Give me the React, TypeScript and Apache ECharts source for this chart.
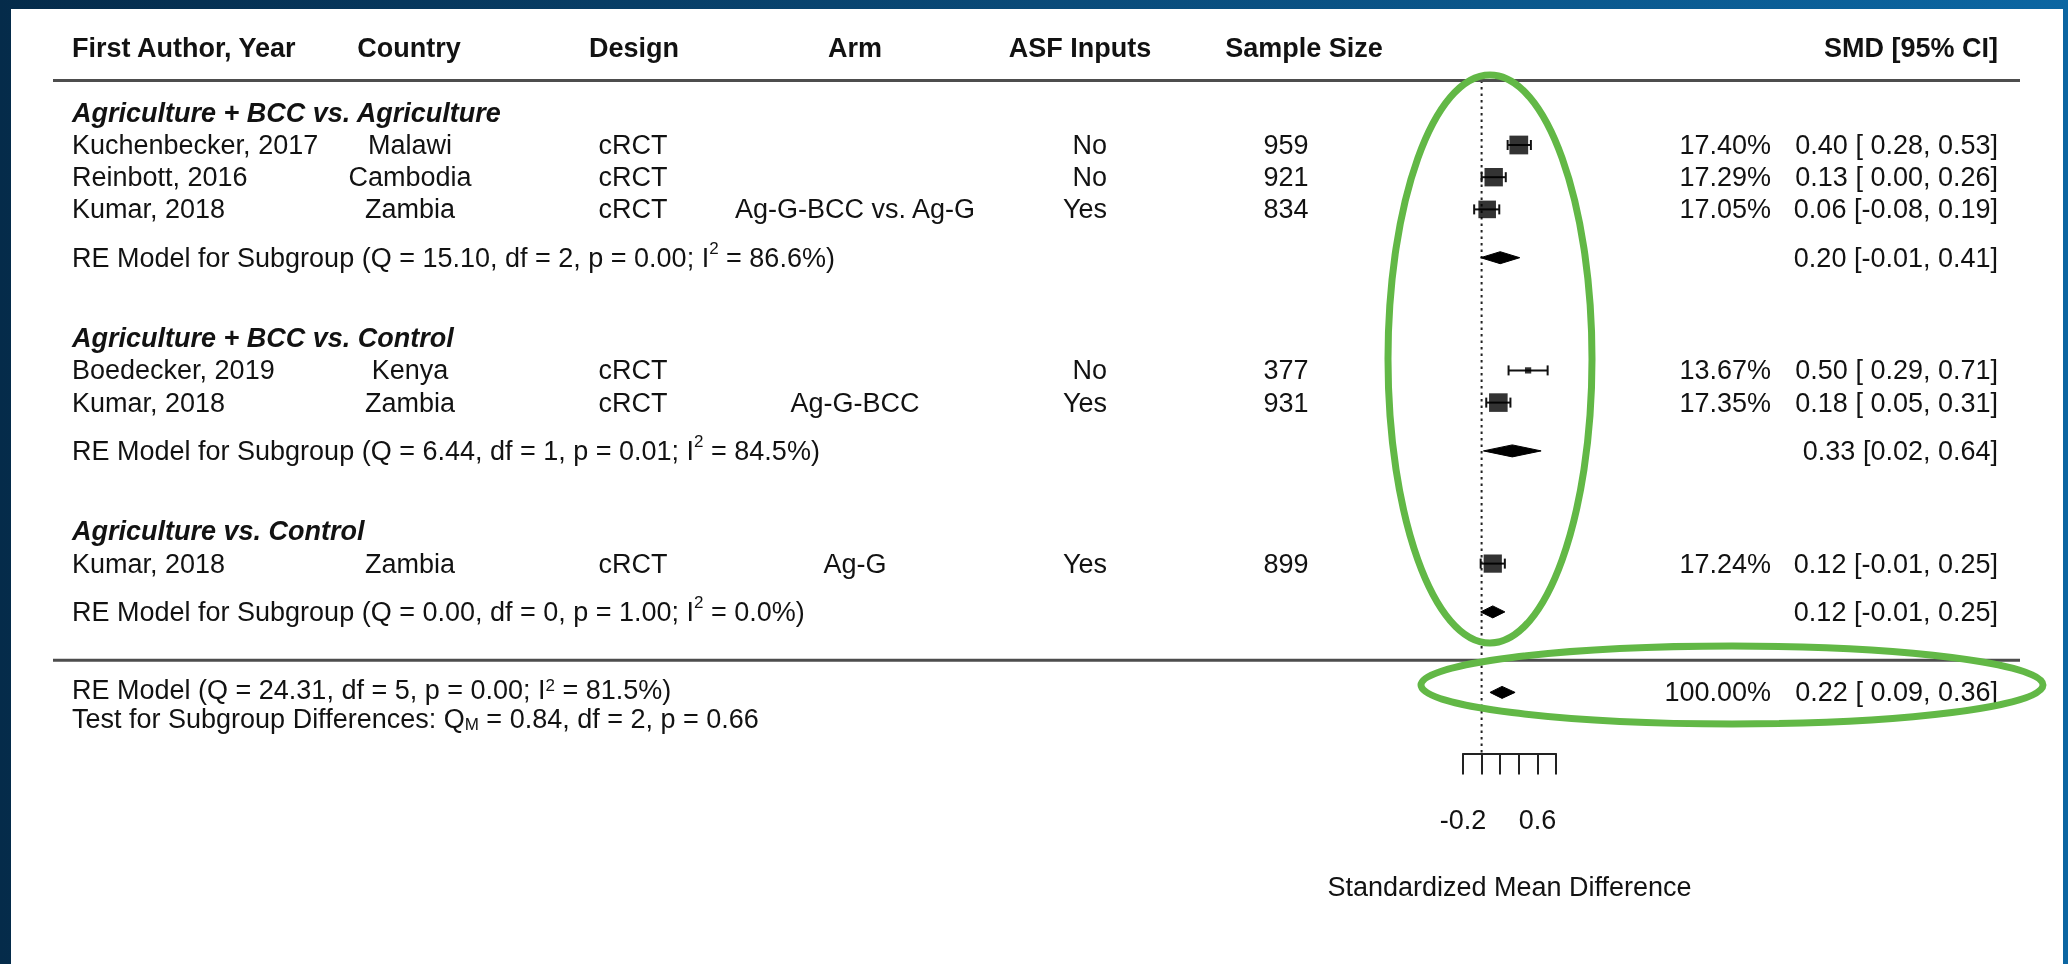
import React, { useEffect, useRef } from "react";
import * as echarts from "echarts";

// ---------------- data ----------------
const headerLabels = ["First Author, Year", "Country", "Design", "Arm", "ASF Inputs", "Sample Size", "SMD [95% CI]"];

const groupTitles = ["Agriculture + BCC vs. Agriculture", "Agriculture + BCC vs. Control", "Agriculture vs. Control"];
const groupTitleRows = [-1, 6, 12];

const studyAuthors = ["Kuchenbecker, 2017", "Reinbott, 2016", "Kumar, 2018", "Boedecker, 2019", "Kumar, 2018", "Kumar, 2018"];
const studyCountries = ["Malawi", "Cambodia", "Zambia", "Kenya", "Zambia", "Zambia"];
const studyDesigns = ["cRCT", "cRCT", "cRCT", "cRCT", "cRCT", "cRCT"];
const studyArms = ["", "", "Ag-G-BCC vs. Ag-G", "", "Ag-G-BCC", "Ag-G"];
const studyAsf = ["No", "No", "Yes", "No", "Yes", "Yes"];
const studyN = [959, 921, 834, 377, 931, 899];
const studyWeights = [17.4, 17.29, 17.05, 13.67, 17.35, 17.24];
const studySmd = [0.4, 0.13, 0.06, 0.5, 0.18, 0.12];
const studyLower = [0.28, 0.0, -0.08, 0.29, 0.05, -0.01];
const studyUpper = [0.53, 0.26, 0.19, 0.71, 0.31, 0.25];
const studyRows = [0, 1, 2, 7, 8, 13];

const subgroupRows = [3.5, 9.5, 14.5];
const subgroupQ = [15.1, 6.44, 0.0];
const subgroupDf = [2, 1, 0];
const subgroupP = [0.0, 0.01, 1.0];
const subgroupI2 = [86.6, 84.5, 0.0];
const subgroupSmd = [0.2, 0.33, 0.12];
const subgroupLower = [-0.01, 0.02, -0.01];
const subgroupUpper = [0.41, 0.64, 0.25];

const overallRow = 17;
const overallTextRow = 16.94;
const testRow = 17.84;
const overallQ = 24.31;
const overallDf = 5;
const overallP = 0.0;
const overallI2 = 81.5;
const overallWeight = 100.0;
const overallSmd = 0.22;
const overallLower = 0.09;
const overallUpper = 0.36;
const testQM = 0.84;
const testDf = 2;
const testP = 0.66;

const headerRow = -3;
const ruleRows = [-2, 16];

const xMin = -0.2;
const xMax = 0.8;
const xInterval = 0.2;
const xTickLabelsShown = ["-0.2", "0.6"];
const xAxisTitle = "Standardized Mean Difference";

// ---------------- layout ----------------
const W = 2068;
const H = 964;
const ROW_PX = 32.2;
const ROW0_Y = 145;
const Y_MIN = -2;
const Y_MAX = 18.9;
const PLOT_LEFT = 1463;
const PLOT_WIDTH = 93;
const COL = {
  author: 72,
  country: 410,
  design: 633,
  arm: 855,
  asf: 1107,
  n: 1286,
  weight: 1771,
  ci: 1998,
  hCountry: 409,
  hDesign: 634,
  hArm: 855,
  hAsf: 1080,
  hN: 1304,
};
const RULE_X1 = 53;
const RULE_X2 = 2020;
const FRAME = { left: 11, top: 9, right: 5 };
const FONT = "'Liberation Sans', Arial, Helvetica, sans-serif";
const FS = 27;
const INK = "#121212";
const GREEN = "#62b846";

const f2 = (v: number) => v.toFixed(2);
const ciText = (est: number, lo: number, hi: number, pad: boolean) =>
  `${f2(est)} [${pad ? f2(lo).padStart(5, " ") : f2(lo)}, ${f2(hi)}]`;

export default function App() {
  const ref = useRef<HTMLDivElement>(null);

  useEffect(() => {
    if (!ref.current) return;
    const chart = echarts.init(ref.current, undefined, { renderer: "svg" });

    const wMin = Math.min(...studyWeights);
    const wMax = Math.max(...studyWeights);
    const psize = (w: number) => ((w - wMin) / (wMax - wMin)) * 1 + 0.5;

    chart.setOption({
      animation: false,
      grid: {
        left: PLOT_LEFT,
        width: PLOT_WIDTH,
        top: ROW0_Y + Y_MIN * ROW_PX,
        height: (Y_MAX - Y_MIN) * ROW_PX,
        containLabel: false,
      },
      xAxis: {
        type: "value",
        position: "bottom",
        min: xMin,
        max: xMax,
        interval: xInterval,
        splitLine: { show: false },
        axisLine: { show: true, onZero: false, lineStyle: { color: "#222", width: 2 } },
        axisTick: { show: true, length: 21, lineStyle: { color: "#222", width: 2 } },
        axisLabel: {
          fontSize: FS,
          fontFamily: FONT,
          color: INK,
          margin: 53,
          showMinLabel: true,
          showMaxLabel: true,
          formatter: (v: number) => {
            const s = (Math.round(v * 10) / 10).toFixed(1);
            return xTickLabelsShown.includes(s) ? s : "";
          },
        },
        name: xAxisTitle,
        nameLocation: "middle",
        nameGap: 120,
        nameTextStyle: { fontSize: FS, fontFamily: FONT, color: INK },
      },
      yAxis: {
        type: "value",
        inverse: true,
        min: Y_MIN,
        max: Y_MAX,
        show: false,
        splitLine: { show: false },
      },
      series: [
        {
          type: "line",
          data: [
            [0, Y_MIN],
            [0, Y_MAX],
          ],
          symbol: "none",
          lineStyle: { color: "#222", width: 2, type: [2.5, 4] },
          z: 1,
        },
        {
          type: "custom",
          data: studySmd.map((_, i) => [studyLower[i], studyUpper[i], studyRows[i]]),
          encode: { x: [0, 1], y: 2 },
          renderItem: (_p: any, api: any) => {
            const a = api.coord([api.value(0), api.value(2)]);
            const b = api.coord([api.value(1), api.value(2)]);
            const cap = 5;
            const st = { stroke: "#111", lineWidth: 2 };
            return {
              type: "group",
              children: [
                { type: "line", shape: { x1: a[0], y1: a[1], x2: b[0], y2: b[1] }, style: st },
                { type: "line", shape: { x1: a[0], y1: a[1] - cap, x2: a[0], y2: a[1] + cap }, style: st },
                { type: "line", shape: { x1: b[0], y1: b[1] - cap, x2: b[0], y2: b[1] + cap }, style: st },
              ],
            };
          },
          z: 3,
        },
        {
          type: "scatter",
          data: studySmd.map((v, i) => [v, studyRows[i], studyWeights[i]]),
          symbol: "rect",
          symbolSize: (val: number[]) => psize(val[2]) * 12.5,
          itemStyle: { color: "#000" },
          z: 4,
        },
        {
          type: "custom",
          data: [
            ...subgroupSmd.map((v, i) => [v, subgroupLower[i], subgroupUpper[i], subgroupRows[i]]),
            [overallSmd, overallLower, overallUpper, overallRow],
          ],
          encode: { x: [0, 1, 2], y: 3 },
          renderItem: (_p: any, api: any) => {
            const r = api.value(3);
            const e = api.coord([api.value(0), r]);
            const l = api.coord([api.value(1), r]);
            const u = api.coord([api.value(2), r]);
            const h = 6;
            return {
              type: "polygon",
              shape: {
                points: [
                  [l[0], l[1]],
                  [e[0], e[1] - h],
                  [u[0], u[1]],
                  [e[0], e[1] + h],
                ],
              },
              style: { fill: "#000", stroke: "#000", lineWidth: 1 },
            };
          },
          z: 4,
        },
      ],
    });

    const yPx = (r: number) => chart.convertToPixel({ yAxisIndex: 0 }, r) as number;

    const txt = (
      x: number,
      row: number,
      text: string,
      align: string,
      extra: Record<string, any> = {}
    ) => ({
      type: "text",
      x,
      y: yPx(row),
      z: 50,
      style: {
        text,
        fill: INK,
        fontSize: FS,
        fontFamily: FONT,
        align,
        verticalAlign: "middle",
        ...extra,
      },
    });

    const richTall = {
      a: { fontSize: FS, fontFamily: FONT, fill: INK, lineHeight: 36 },
      sup: { fontSize: 17, fontFamily: FONT, fill: INK, lineHeight: 14, verticalAlign: "top" },
    };
    const richTight = {
      a: { fontSize: FS, fontFamily: FONT, fill: INK, lineHeight: 27 },
      sup: { fontSize: 17, fontFamily: FONT, fill: INK, lineHeight: 10, verticalAlign: "top" },
      sub: { fontSize: 17, fontFamily: FONT, fill: INK, lineHeight: 10, verticalAlign: "bottom" },
    };
    const richTxt = (x: number, row: number, text: string, rich: any) => ({
      type: "text",
      x,
      y: yPx(row),
      z: 50,
      style: { text, rich, fill: INK, fontSize: FS, fontFamily: FONT, align: "left", verticalAlign: "middle" },
    });

    const elements: any[] = [];
    // frame
    elements.push({
      type: "rect",
      z: -10,
      shape: { x: 0, y: 0, width: W, height: H },
      style: {
        fill: new echarts.graphic.LinearGradient(0, 0, 1, 0, [
          { offset: 0, color: "#052b4a" },
          { offset: 0.5, color: "#0a4a78" },
          { offset: 1, color: "#0c66a2" },
        ]),
      },
    });
    elements.push({
      type: "rect",
      z: -9,
      shape: { x: FRAME.left, y: FRAME.top, width: W - FRAME.left - FRAME.right, height: H - FRAME.top },
      style: { fill: "#ffffff" },
    });

    // header
    const bold = { fontWeight: "bold" };
    elements.push(txt(COL.author, headerRow, headerLabels[0], "left", bold));
    elements.push(txt(COL.hCountry, headerRow, headerLabels[1], "center", bold));
    elements.push(txt(COL.hDesign, headerRow, headerLabels[2], "center", bold));
    elements.push(txt(COL.hArm, headerRow, headerLabels[3], "center", bold));
    elements.push(txt(COL.hAsf, headerRow, headerLabels[4], "center", bold));
    elements.push(txt(COL.hN, headerRow, headerLabels[5], "center", bold));
    elements.push(txt(COL.ci, headerRow, headerLabels[6], "right", bold));

    // rules
    ruleRows.forEach((r) => {
      elements.push({
        type: "line",
        z: 20,
        shape: { x1: RULE_X1, y1: yPx(r), x2: RULE_X2, y2: yPx(r) },
        style: { stroke: "#4d4d4d", lineWidth: 3 },
      });
    });

    // group titles
    groupTitles.forEach((t, i) => {
      elements.push(txt(COL.author, groupTitleRows[i], t, "left", { fontWeight: "bold", fontStyle: "italic" }));
    });

    // studies
    studyAuthors.forEach((a, i) => {
      const r = studyRows[i];
      elements.push(txt(COL.author, r, a, "left"));
      elements.push(txt(COL.country, r, studyCountries[i], "center"));
      elements.push(txt(COL.design, r, studyDesigns[i], "center"));
      if (studyArms[i]) elements.push(txt(COL.arm, r, studyArms[i], "center"));
      elements.push(txt(COL.asf, r, studyAsf[i], "right"));
      elements.push(txt(COL.n, r, String(studyN[i]), "center"));
      elements.push(txt(COL.weight, r, `${f2(studyWeights[i])}%`, "right"));
      elements.push(txt(COL.ci, r, ciText(studySmd[i], studyLower[i], studyUpper[i], true), "right"));
    });

    // subgroups
    subgroupRows.forEach((r, i) => {
      elements.push(
        richTxt(
          COL.author,
          r,
          `{a|RE Model for Subgroup (Q = ${f2(subgroupQ[i])}, df = ${subgroupDf[i]}, p = ${f2(subgroupP[i])}; I}{sup|2}{a| = ${subgroupI2[i].toFixed(1)}%)}`,
          richTall
        )
      );
      elements.push(txt(COL.ci, r, ciText(subgroupSmd[i], subgroupLower[i], subgroupUpper[i], false), "right"));
    });

    // overall
    elements.push(
      richTxt(
        COL.author,
        overallTextRow,
        `{a|RE Model (Q = ${f2(overallQ)}, df = ${overallDf}, p = ${f2(overallP)}; I}{sup|2}{a| = ${overallI2.toFixed(1)}%)}`,
        richTight
      )
    );
    elements.push(
      richTxt(
        COL.author,
        testRow,
        `{a|Test for Subgroup Differences: Q}{sub|M}{a| = ${f2(testQM)}, df = ${testDf}, p = ${f2(testP)}}`,
        richTight
      )
    );
    elements.push(txt(COL.weight, overallRow, `${f2(overallWeight)}%`, "right"));
    elements.push(txt(COL.ci, overallRow, ciText(overallSmd, overallLower, overallUpper, true), "right"));

    // annotation ellipses
    elements.push({
      type: "ellipse",
      z: 100,
      shape: { cx: 1490, cy: 359, rx: 102, ry: 284 },
      style: { fill: "none", stroke: GREEN, lineWidth: 7 },
    });
    elements.push({
      type: "ellipse",
      z: 100,
      shape: { cx: 1732, cy: 685, rx: 311, ry: 39 },
      style: { fill: "none", stroke: GREEN, lineWidth: 7 },
    });

    chart.setOption({ graphic: { elements } });

    return () => chart.dispose();
  }, []);

  return <div ref={ref} style={{ position: "fixed", left: 0, top: 0, width: W, height: H }} />;
}
